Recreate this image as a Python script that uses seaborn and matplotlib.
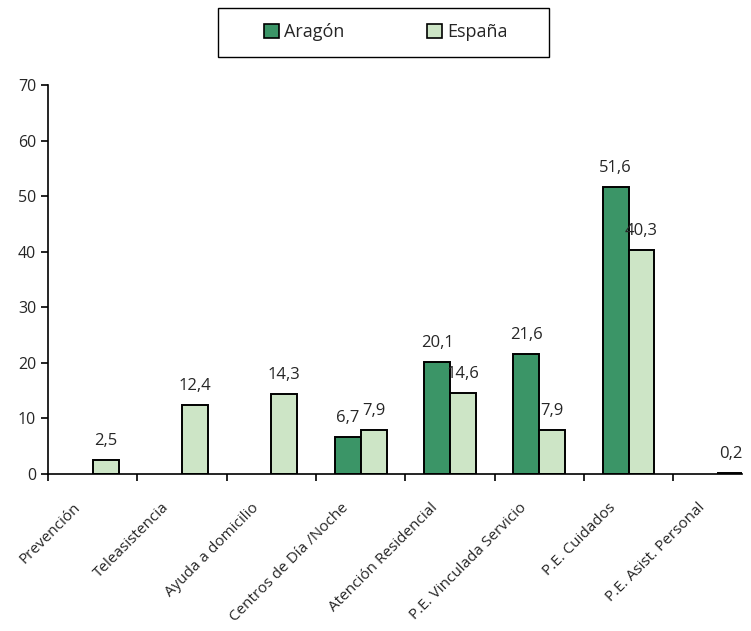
import pandas as pd
import seaborn as sns
import matplotlib.pyplot as plt
import matplotlib.transforms as mtransforms
from matplotlib.ticker import FixedLocator

categorias = ["Prevención", "Teleasistencia", "Ayuda a domicilio", "Centros de Día /Noche",
              "Atención Residencial", "P.E. Vinculada Servicio", "P.E. Cuidados",
              "P.E. Asist. Personal"]
aragon = [0, 0, 0, 6.7, 20.1, 21.6, 51.6, 0]
espana = [2.5, 12.4, 14.3, 7.9, 14.6, 7.9, 40.3, 0.2]
series = ["Aragón", "España"]
colores = ["#3B9567", "#CDE5C6"]

df = pd.DataFrame({
    "cat": categorias * 2,
    "valor": aragon + espana,
    "serie": [series[0]] * len(categorias) + [series[1]] * len(categorias),
})

sns.set_style("white")
plt.rcParams["font.family"] = ["Open Sans", "DejaVu Sans"]

fig = plt.figure(figsize=(7.51, 6.31), dpi=100)
ax = fig.add_axes([0.064, 0.249, 0.924, 0.616])

sns.barplot(data=df, x="cat", y="valor", hue="serie", palette=colores, width=0.58,
            saturation=1, edgecolor="black", linewidth=1.4, ax=ax, legend=False)

for cont in ax.containers:
    for b in cont:
        if b.get_height() == 0:
            b.set_visible(False)
    labs = [f"{b.get_height():.1f}".replace(".", ",") if b.get_height() > 0 else "" for b in cont]
    ax.bar_label(cont, labels=labs, padding=8, fontsize=12)

ax.set_ylim(0, 70)
ax.set_xlim(-0.5, 7.27)
ax.set_yticks(range(0, 71, 10))
ax.set_xlabel("")
ax.set_ylabel("")
ax.set_xticks(range(len(categorias)))
ax.set_xticklabels(categorias, rotation=45, ha="right", rotation_mode="anchor", fontsize=11)
ax.xaxis.set_minor_locator(FixedLocator([i - 0.5 for i in range(len(categorias))]))
ax.tick_params(axis="x", which="major", length=0, pad=19)
ax.tick_params(axis="x", which="minor", length=5, width=1.2, color="black", direction="out", bottom=True)
ax.tick_params(axis="y", length=5, width=1.2, color="black", direction="out", labelsize=11.5, left=True)
# shift rotated labels a bit to the left (after tick_params, which resets transforms)
offset = mtransforms.ScaledTranslation(-20 / 100, 0, fig.dpi_scale_trans)
for lab in ax.get_xticklabels():
    lab.set_transform(lab.get_transform() + offset)
for s in ["top", "right"]:
    ax.spines[s].set_visible(False)
for s in ["left", "bottom"]:
    ax.spines[s].set_color("black")
    ax.spines[s].set_linewidth(1.2)

handles = [plt.Rectangle((0, 0), 1, 1, facecolor=c, edgecolor="black", linewidth=1.2) for c in colores]
leg = fig.legend(handles, series, loc="center", bbox_to_anchor=(0.514, 0.949), ncol=2,
                 frameon=False, fontsize=13,
                 handlelength=0.8, handleheight=0.8, handletextpad=0.3, columnspacing=4.6,
                 borderaxespad=0)
fig.patches.append(plt.Rectangle((218 / 751, 1 - 57 / 631), 331 / 751, 49 / 631,
                                 transform=fig.transFigure, fill=False,
                                 edgecolor="black", linewidth=1))

fig.savefig("out.png", dpi=100)
